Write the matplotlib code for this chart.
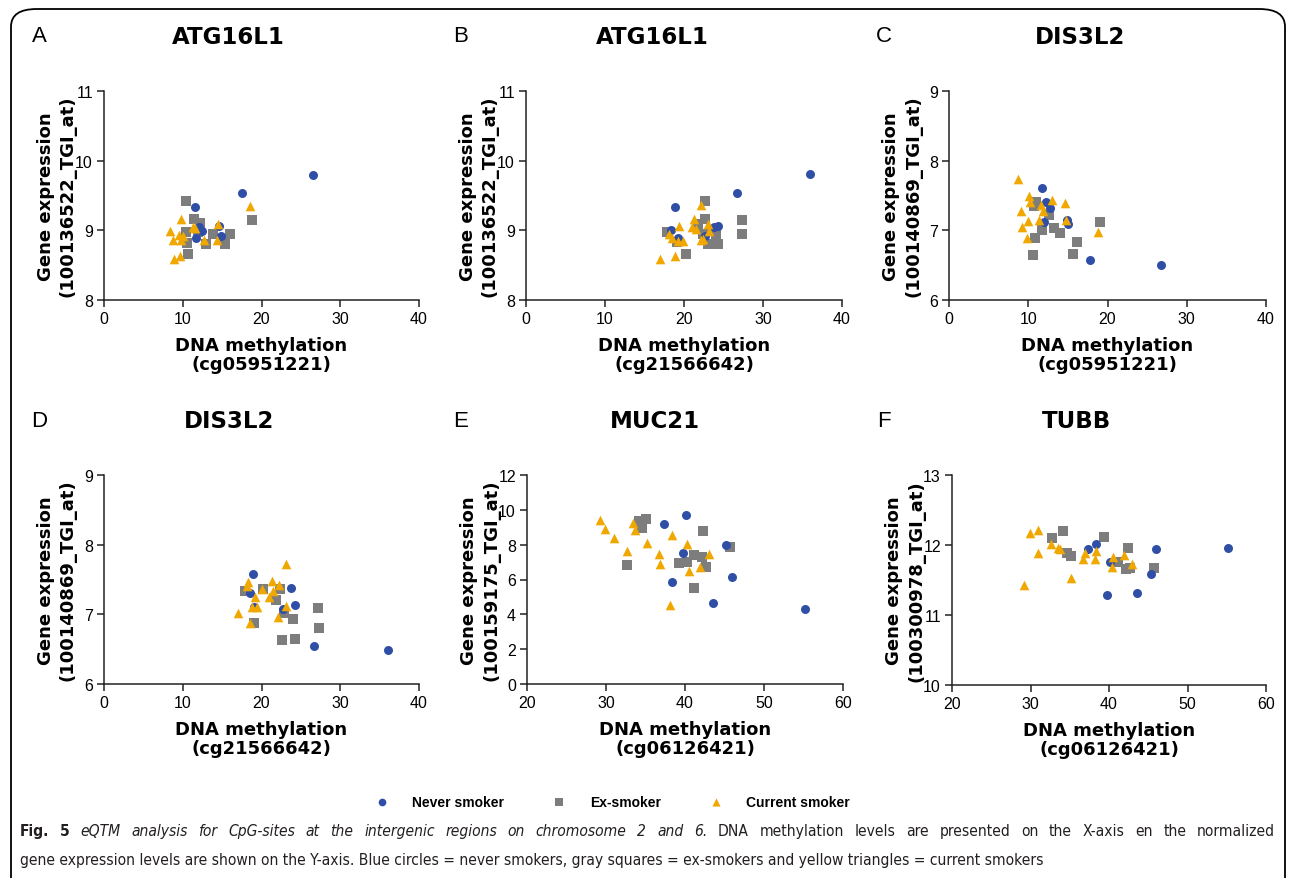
import matplotlib
matplotlib.use('Agg')
import matplotlib.pyplot as plt
from matplotlib import font_manager
from matplotlib.patches import FancyBboxPatch
import numpy as np

W, H = 1290, 879

# ---- data ----
# Panel A: ATG16L1 vs cg05951221
a_never_x = [26.5, 17.5, 11.5, 12.05, 12.5, 11.7, 14.6, 14.8]
a_never_y = [9.79, 9.54, 9.33, 9.04, 8.99, 8.88, 9.06, 8.92]
a_ex_x = [10.4, 11.4, 12.2, 10.4, 13.8, 15.95, 10.6, 12.95, 15.4, 10.7, 18.8, 11.9]
a_ex_y = [9.42, 9.16, 9.10, 8.98, 8.95, 8.95, 8.82, 8.80, 8.80, 8.65, 9.14, 8.97]
a_cur_x = [18.5, 9.8, 8.4, 11.3, 11.6, 9.5, 10.05, 8.8, 9.8, 12.7, 14.4, 14.5, 9.7, 8.9]
a_cur_y = [9.35, 9.16, 8.99, 9.04, 9.03, 8.93, 8.92, 8.86, 8.86, 8.86, 8.86, 9.09, 8.63, 8.58]

# Panel B: ATG16L1 vs cg21566642
b_never_x = [36.0, 26.7, 18.9, 18.4, 19.2, 24.3, 23.8, 22.7]
b_never_y = [9.80, 9.53, 9.33, 9.00, 8.89, 9.06, 9.04, 8.91]
b_ex_x = [22.7, 27.3, 27.4, 22.6, 21.8, 17.8, 24.05, 22.4, 23.0, 24.3, 19.1, 20.2]
b_ex_y = [9.42, 9.14, 8.95, 9.16, 9.09, 8.98, 8.95, 8.95, 8.80, 8.80, 8.83, 8.65]
b_cur_x = [22.15, 21.3, 19.4, 21.0, 21.5, 23.0, 23.2, 18.1, 18.5, 19.2, 19.9, 22.2, 22.4, 18.8, 17.0]
b_cur_y = [9.36, 9.16, 9.06, 9.05, 9.02, 9.09, 8.99, 8.95, 8.88, 8.85, 8.85, 8.86, 8.87, 8.63, 8.58]

# Panel C: DIS3L2 vs cg05951221
c_never_x = [11.7, 12.2, 12.8, 12.0, 14.9, 15.0, 17.8, 26.7]
c_never_y = [7.60, 7.40, 7.32, 7.11, 7.15, 7.09, 6.57, 6.50]
c_ex_x = [11.0, 10.7, 12.6, 11.7, 13.2, 14.05, 10.8, 19.0, 16.2, 10.6, 15.7]
c_ex_y = [7.40, 7.35, 7.22, 7.00, 7.03, 6.96, 6.88, 7.11, 6.83, 6.64, 6.65]
c_cur_x = [8.7, 10.1, 10.2, 13.0, 14.7, 11.6, 11.9, 9.1, 10.0, 11.4, 14.8, 9.2, 9.8, 18.8]
c_cur_y = [7.73, 7.49, 7.40, 7.44, 7.39, 7.36, 7.27, 7.27, 7.13, 7.14, 7.14, 7.04, 6.88, 6.98]

# Panel D: DIS3L2 vs cg21566642
d_never_x = [18.9, 18.5, 23.7, 24.25, 19.1, 22.7, 26.7, 36.0]
d_never_y = [7.58, 7.31, 7.38, 7.13, 7.10, 7.08, 6.55, 6.49]
d_ex_x = [17.9, 20.15, 22.4, 21.9, 22.9, 24.0, 19.1, 27.2, 27.3, 22.6, 24.3]
d_ex_y = [7.34, 7.37, 7.36, 7.20, 7.02, 6.94, 6.87, 7.09, 6.81, 6.63, 6.64]
d_cur_x = [23.1, 18.3, 18.2, 21.3, 22.2, 20.0, 21.5, 19.2, 21.0, 18.8, 19.4, 23.1, 17.0, 22.1, 18.5]
d_cur_y = [7.72, 7.46, 7.40, 7.48, 7.42, 7.36, 7.34, 7.25, 7.25, 7.11, 7.11, 7.12, 7.02, 6.96, 6.87]

# Panel E: MUC21 vs cg06126421
e_never_x = [37.3, 40.1, 39.8, 45.2, 46.0, 38.4, 43.5, 55.2]
e_never_y = [9.18, 9.68, 7.51, 7.99, 6.13, 5.83, 4.64, 4.28]
e_ex_x = [34.2, 35.1, 34.6, 42.3, 45.7, 32.7, 39.3, 40.3, 41.1, 42.2, 42.6, 41.2]
e_ex_y = [9.37, 9.45, 8.93, 8.79, 7.87, 6.86, 6.94, 7.01, 7.38, 7.30, 6.72, 5.52]
e_cur_x = [29.2, 29.9, 31.0, 33.4, 33.7, 32.6, 35.2, 38.3, 36.7, 36.8, 40.3, 40.5, 41.9, 43.0, 38.1]
e_cur_y = [9.41, 8.91, 8.36, 9.22, 8.83, 7.63, 8.07, 8.55, 7.47, 6.90, 8.03, 6.49, 6.72, 7.44, 4.54]

# Panel F: TUBB vs cg06126421
f_never_x = [37.35, 38.4, 40.1, 39.8, 43.6, 45.3, 46.0, 55.2]
f_never_y = [11.94, 12.01, 11.75, 11.29, 11.31, 11.58, 11.94, 11.95]
f_ex_x = [32.8, 34.2, 34.6, 35.1, 39.3, 41.2, 42.4, 42.2, 42.7, 45.7]
f_ex_y = [12.10, 12.20, 11.89, 11.84, 12.11, 11.75, 11.96, 11.66, 11.67, 11.67]
f_cur_x = [29.9, 31.0, 32.6, 33.5, 33.7, 30.9, 29.2, 35.1, 36.9, 36.7, 38.3, 38.2, 40.5, 40.4, 41.9, 42.9]
f_cur_y = [12.17, 12.21, 12.01, 11.96, 11.94, 11.88, 11.42, 11.52, 11.89, 11.80, 11.91, 11.80, 11.83, 11.69, 11.85, 11.72]

letters = ['A', 'B', 'C', 'D', 'E', 'F']
genes = ['ATG16L1', 'ATG16L1', 'DIS3L2', 'DIS3L2', 'MUC21', 'TUBB']
probes = ['100136522_TGI_at', '100136522_TGI_at', '100140869_TGI_at',
          '100140869_TGI_at', '100159175_TGI_at', '100300978_TGI_at']
cpgs = ['cg05951221', 'cg21566642', 'cg05951221', 'cg21566642', 'cg06126421', 'cg06126421']
xlims = [(0, 40), (0, 40), (0, 40), (0, 40), (20, 60), (20, 60)]
ylims = [(8, 11), (8, 11), (6, 9), (6, 9), (0, 12), (10, 13)]
ysteps = [1, 1, 1, 1, 2, 1]

panel_data = [
    (a_never_x, a_never_y, a_ex_x, a_ex_y, a_cur_x, a_cur_y),
    (b_never_x, b_never_y, b_ex_x, b_ex_y, b_cur_x, b_cur_y),
    (c_never_x, c_never_y, c_ex_x, c_ex_y, c_cur_x, c_cur_y),
    (d_never_x, d_never_y, d_ex_x, d_ex_y, d_cur_x, d_cur_y),
    (e_never_x, e_never_y, e_ex_x, e_ex_y, e_cur_x, e_cur_y),
    (f_never_x, f_never_y, f_ex_x, f_ex_y, f_cur_x, f_cur_y),
]

group_names = ['Never smoker', 'Ex-smoker', 'Current smoker']

caption_1 = [('Fig. 5', 'normal', 'bold'),
             ('eQTM analysis for CpG-sites at the intergenic regions on chromosome 2 and 6.', 'italic', 'normal'),
             ('DNA methylation levels are presented on the X-axis en the normalized', 'normal', 'normal')]
caption_2 = [('gene expression levels are shown on the Y-axis. Blue circles = never smokers, '
              'gray squares = ex-smokers and yellow triangles = current smokers', 'normal', 'normal')]

# ---- styles ----
blue = '#2f4ea6'
grey = '#7d7d7d'
orange = '#f0a800'
head_font = 'DejaVu Sans'
tick_font = 'Liberation Sans'

# axes boxes in pixels: left, right, top, bottom
boxes = [(104, 419, 92, 300.7), (526, 842, 92, 300.7), (949, 1266, 92, 300.7),
         (104, 419, 476, 685), (527, 843, 476, 685), (952, 1266, 476, 685.7)]
letter_pos = [(39, 37), (461, 37), (884, 37), (39, 422), (461, 422), (884, 422)]
title_x = [228, 652, 1080, 229, 655, 1077]

fig = plt.figure(figsize=(W / 100, H / 100), dpi=100)

handles = []
for i in range(6):
    l, r, t, b = boxes[i]
    ax = fig.add_axes([l / W, 1 - b / H, (r - l) / W, (b - t) / H])
    nx, ny, ex, ey, cx, cy = panel_data[i]
    h1 = ax.scatter(nx, ny, marker='o', s=42, color=blue, linewidths=0, zorder=3, clip_on=False)
    h2 = ax.scatter(ex, ey, marker='s', s=42, color=grey, linewidths=0, zorder=2, clip_on=False)
    h3 = ax.scatter(cx, cy, marker='^', s=48, color=orange, linewidths=0, zorder=4, clip_on=False)
    if i == 0:
        handles = [h1, h2, h3]

    ax.set_xlim(*xlims[i])
    ax.set_ylim(*ylims[i])
    ax.set_xticks(np.arange(xlims[i][0], xlims[i][1] + 1, 10))
    ax.set_yticks(np.arange(ylims[i][0], ylims[i][1] + 0.1, ysteps[i]))
    ax.spines['top'].set_visible(False)
    ax.spines['right'].set_visible(False)
    for s in ['left', 'bottom']:
        ax.spines[s].set_linewidth(1.1)
        ax.spines[s].set_color('#222222')
    ax.tick_params(direction='out', length=5, width=1.1, color='#222222',
                   labelsize=11.5, pad=3)
    for lab in ax.get_xticklabels() + ax.get_yticklabels():
        lab.set_fontfamily(tick_font)

    ax.set_ylabel('Gene expression\n(' + probes[i] + ')', fontfamily=head_font,
                  fontweight='bold', fontsize=13, linespacing=1.3)
    ax.yaxis.set_label_coords(-27 / (r - l), 0.5)
    ax.set_xlabel('DNA methylation\n(' + cpgs[i] + ')', fontfamily=head_font,
                  fontweight='bold', fontsize=13, labelpad=7, linespacing=1.1)

    lx, ly = letter_pos[i]
    fig.text(lx / W, 1 - ly / H, letters[i], fontfamily=tick_font, fontsize=16,
             ha='center', va='center')
    fig.text(title_x[i] / W, 1 - ly / H, genes[i], fontfamily=head_font,
             fontweight='bold', fontsize=16.5, ha='center', va='center')

# legend
leg = fig.legend(handles, group_names, loc='center', bbox_to_anchor=(609 / W, 1 - 803 / H),
                 ncol=3, frameon=False, handletextpad=1.2, columnspacing=2.95,
                 prop={'family': tick_font, 'weight': 'bold', 'size': 10},
                 scatterpoints=1, markerscale=0.85)

# frame with rounded corner
frame = FancyBboxPatch((11 / W, -0.05), (1285 - 11) / W, 1.05 - 10 / H,
                       boxstyle='round,pad=0,rounding_size=0.02',
                       transform=fig.transFigure, facecolor='none',
                       edgecolor='black', linewidth=1.3, clip_on=False)
fig.patches.append(frame)

# caption font: prefer a narrow face
cap_family, cap_stretch = 'Lato', 'normal'
names = {(f.name, str(f.stretch)) for f in font_manager.fontManager.ttflist}
if any(n == 'Liberation Sans Narrow' for n, s in names):
    cap_family = 'Liberation Sans Narrow'
elif ('DejaVu Sans', 'condensed') in names:
    cap_family, cap_stretch = 'DejaVu Sans', 'condensed'

renderer = fig.canvas.get_renderer()


def word_list(parts):
    out = []
    for txt, style, weight in parts:
        for w in txt.split(' '):
            out.append((w, style, weight))
    return out


def measure(txt, style, weight, size):
    t = fig.text(0, 0, txt, fontfamily=cap_family, fontstretch=cap_stretch,
                 fontstyle=style, fontweight=weight, fontsize=size)
    wdt = t.get_window_extent(renderer).width
    t.remove()
    return wdt


def put(txt, style, weight, size, x, y):
    fig.text(x / W, 1 - y / H, txt, fontfamily=cap_family, fontstretch=cap_stretch,
             fontstyle=style, fontweight=weight, fontsize=size,
             va='center', ha='left', color='#231f20')


# second line is set ragged; size it to its width in the figure
line2_w = sum(measure(txt, s, w, 12) for txt, s, w in caption_2)
cap_size = 12 * 1020 / line2_w
for txt, s, w in caption_2:
    put(txt, s, w, cap_size, 20, 861)

# first line is justified between x=20 and x=1275
words = word_list(caption_1)
widths = [measure(wd, s, w, cap_size) for wd, s, w in words]
gap = (1275 - 20 - sum(widths)) / (len(words) - 1)
x = 20
for (wd, s, w), wdt in zip(words, widths):
    put(wd, s, w, cap_size, x, 832)
    x += wdt + gap

fig.savefig('out.png', dpi=100)
